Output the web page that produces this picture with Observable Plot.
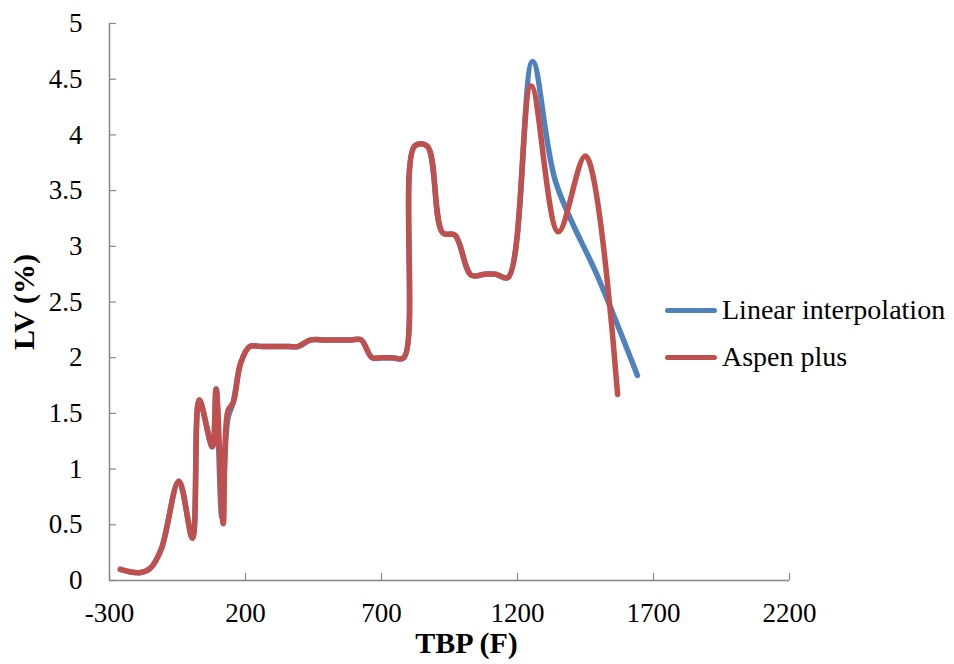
<!DOCTYPE html>
<html>
<head>
<meta charset="utf-8">
<script src="https://cdn.jsdelivr.net/npm/d3@7"></script>
<script src="https://cdn.jsdelivr.net/npm/@observablehq/plot@0.6"></script>
<style>
  html, body { margin: 0; padding: 0; background: #fff; }
  #wrap { position: relative; width: 954px; height: 664px; }
  #legend { position: absolute; left: 0; top: 0; font-family: "Liberation Serif", "Times New Roman", serif; font-size: 28px; color: #000; }
  .item { position: absolute; white-space: nowrap; display: flex; align-items: center; }
  .sw { display: inline-block; width: 52px; height: 5px; border-radius: 3px; margin-right: 5px; }
</style>
</head>
<body>
<div id="wrap"><div id="legend"></div></div>
<script>
// ---- data ----
const xTicks = [-300, 200, 700, 1200, 1700, 2200];
const yTicks = [0, 0.5, 1, 1.5, 2, 2.5, 3, 3.5, 4, 4.5, 5];
const seriesNames = ["Linear interpolation", "Aspen plus"];
const seriesColors = ["#4F81BD", "#C0504D"];

const linearX = [-260, -190, -150, -110, -45, 5, 30, 78, 92, 113, 135, 155, 182, 215, 260, 310, 360, 392, 440, 490, 540, 590, 625, 665, 700, 740, 782, 822, 868, 925, 970, 1030, 1080, 1120, 1165, 1255, 1340, 1500, 1641];
const linearY = [0.10, 0.07, 0.11, 0.28, 0.89, 0.38, 1.62, 1.20, 1.72, 0.57, 1.45, 1.60, 1.95, 2.10, 2.10, 2.10, 2.10, 2.10, 2.16, 2.16, 2.16, 2.16, 2.16, 2.00, 2.00, 2.00, 2.00, 3.90, 3.90, 3.12, 3.10, 2.74, 2.75, 2.75, 2.72, 4.66, 3.58, 2.70, 1.84];

const aspenX = [-260, -190, -150, -110, -45, 5, 30, 78, 92, 118, 135, 155, 182, 215, 260, 310, 360, 392, 440, 490, 540, 590, 625, 665, 700, 740, 782, 822, 868, 925, 970, 1030, 1080, 1120, 1165, 1250, 1350, 1450, 1568];
const aspenY = [0.10, 0.07, 0.11, 0.28, 0.89, 0.38, 1.62, 1.20, 1.72, 0.51, 1.52, 1.60, 1.95, 2.10, 2.10, 2.10, 2.10, 2.10, 2.16, 2.16, 2.16, 2.16, 2.16, 2.00, 2.00, 2.00, 2.00, 3.90, 3.90, 3.12, 3.10, 2.74, 2.75, 2.75, 2.72, 4.44, 3.13, 3.81, 1.67];

const linearData = linearX.map((x, i) => ({x, y: linearY[i], s: seriesNames[0]}));
const aspenData = aspenX.map((x, i) => ({x, y: aspenY[i], s: seriesNames[1]}));

const font = "Liberation Serif";
const axisGray = "#868686";

const chart = Plot.plot({
  width: 954,
  height: 664,
  marginLeft: 109,
  marginRight: 165,
  marginTop: 23,
  marginBottom: 84,
  style: {fontFamily: "'Liberation Serif', 'Times New Roman', serif", background: "white"},
  x: {domain: [-300, 2200]},
  y: {domain: [0, 5]},
  marks: [
    Plot.ruleY([0], {stroke: axisGray, strokeWidth: 1.5}),
    Plot.ruleX([-300], {stroke: axisGray, strokeWidth: 1.5}),
    Plot.axisX(xTicks, {tickSize: -7, tickPadding: 29, stroke: axisGray, fill: "black", fontSize: 27, fontFamily: font, label: null, strokeWidth: 1.2, tickFormat: d => String(d)}),
    Plot.axisY(yTicks, {tickSize: -7, tickPadding: 34, stroke: axisGray, fill: "black", fontSize: 27, fontFamily: font, label: null, strokeWidth: 1.2, tickFormat: d => String(d)}),
    Plot.line(linearData, {x: "x", y: "y", stroke: seriesColors[0], strokeWidth: 5.5, curve: "catmull-rom", strokeLinecap: "round", strokeLinejoin: "round"}),
    Plot.line(aspenData, {x: "x", y: "y", stroke: seriesColors[1], strokeWidth: 5.5, curve: "catmull-rom", strokeLinecap: "round", strokeLinejoin: "round"}),
    Plot.text(["TBP (F)"], {frameAnchor: "bottom", textAnchor: "middle", lineAnchor: "middle", dy: 63, dx: 17, fontSize: 30, fontWeight: "bold", fontFamily: font, fill: "black"}),
    Plot.text(["LV (%)"], {frameAnchor: "left", textAnchor: "middle", lineAnchor: "middle", dx: -85, dy: 0, rotate: -90, fontSize: 30, fontWeight: "bold", fontFamily: font, fill: "black"})
  ]
});
document.getElementById("wrap").prepend(chart);

// legend
const legend = document.getElementById("legend");
const legendPos = [[665, 310], [665, 357]];
seriesNames.forEach((name, i) => {
  const item = document.createElement("div");
  item.className = "item";
  item.style.left = legendPos[i][0] + "px";
  item.style.top = (legendPos[i][1] - 17) + "px";
  item.style.height = "34px";
  const sw = document.createElement("span");
  sw.className = "sw";
  sw.style.background = seriesColors[i];
  const t = document.createElement("span");
  t.textContent = name;
  item.append(sw, t);
  legend.append(item);
});
</script>
</body>
</html>
